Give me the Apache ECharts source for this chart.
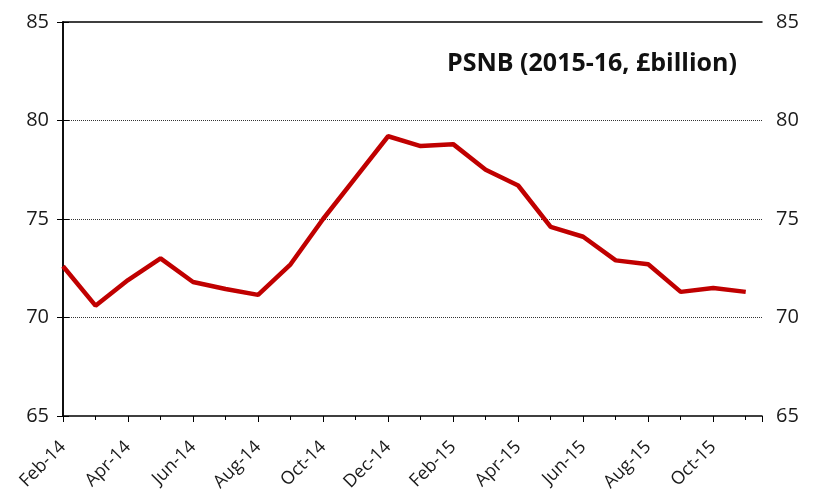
<!DOCTYPE html>
<html>
<head>
<meta charset="utf-8">
<script src="https://cdn.jsdelivr.net/npm/echarts@6/dist/echarts.min.js"></script>
<style>
  html, body { margin: 0; padding: 0; background: #fff; }
  #chart { width: 822px; height: 500px; }
</style>
</head>
<body>
<div id="chart"></div>
<script>
// months, Feb-14 .. Nov-15
const months = [
  "Feb-14", "Mar-14", "Apr-14", "May-14", "Jun-14", "Jul-14", "Aug-14", "Sep-14",
  "Oct-14", "Nov-14", "Dec-14", "Jan-15", "Feb-15", "Mar-15", "Apr-15", "May-15",
  "Jun-15", "Jul-15", "Aug-15", "Sep-15", "Oct-15", "Nov-15"
]
// PSNB forecast for 2015-16, £billion
const psnb = [
  72.6, 70.6, 71.9, 73.0, 71.8, 71.45, 71.15, 72.7,
  75.0, 77.1, 79.2, 78.7, 78.8, 77.5, 76.7, 74.6,
  74.1, 72.9, 72.7, 71.3, 71.5, 71.3
]
const yTicks = [65, 70, 75, 80, 85]

const font = "'Open Sans', 'Noto Sans', sans-serif"
const chart = echarts.init(document.getElementById("chart"), null, { renderer: "canvas" })

// x is a value axis so it can run half a month past the last point
const xMax = months.length - 0.5
const monthLabel = (v) => (Number.isInteger(v) && v % 2 === 0 && months[v]) ? months[v] : ""

const yAxisBase = {
  type: "value",
  min: yTicks[0],
  max: yTicks[yTicks.length - 1],
  interval: 5,
  axisLine: { show: true, lineStyle: { color: "#000", width: 1.5 } },
  axisTick: { show: true, inside: false, length: 6, lineStyle: { color: "#000" } },
  axisLabel: { color: "#1a1a1a", fontSize: 20, fontFamily: font, margin: 14 }
}

chart.setOption({
  animation: false,
  backgroundColor: "#fff",
  grid: { left: 63, right: 60, top: 22, bottom: 84 },
  title: {
    text: "PSNB (2015-16, £billion)",
    right: 80,
    top: 46,
    textStyle: { fontFamily: font, fontSize: 25, fontWeight: "bold", color: "#111" }
  },
  xAxis: [
    {
      type: "value",
      min: 0,
      max: xMax,
      interval: 2,
      axisLine: { show: true, onZero: false, lineStyle: { color: "#000", width: 1.5 } },
      axisTick: { show: true, length: 6, lineStyle: { color: "#000" } },
      minorTick: { show: true, splitNumber: 2, length: 4, lineStyle: { color: "#000" } },
      splitLine: { show: false },
      axisLabel: {
        rotate: 45,
        margin: 28,
        color: "#1a1a1a",
        fontSize: 18,
        fontFamily: font,
        showMaxLabel: false,
        formatter: monthLabel
      }
    },
    {
      // top border of the plot
      type: "value",
      position: "top",
      min: 0,
      max: xMax,
      axisLine: { show: true, onZero: false, lineStyle: { color: "#000", width: 1.5 } },
      axisTick: { show: false },
      axisLabel: { show: false },
      splitLine: { show: false }
    }
  ],
  yAxis: [
    Object.assign({}, yAxisBase, {
      position: "left",
      splitLine: {
        show: true,
        lineStyle: {
          type: "dotted",
          width: 1,
          color: ["rgba(0,0,0,0)", "#333", "#333", "#333", "rgba(0,0,0,0)"]
        }
      }
    }),
    Object.assign({}, yAxisBase, {
      position: "right",
      splitLine: { show: false }
    })
  ],
  series: [
    {
      type: "line",
      xAxisIndex: 0,
      yAxisIndex: 0,
      data: psnb.map((v, i) => [i, v]),
      showSymbol: false,
      lineStyle: { color: "#c00000", width: 4.5 },
      itemStyle: { color: "#c00000" }
    }
  ]
})
</script>
</body>
</html>
